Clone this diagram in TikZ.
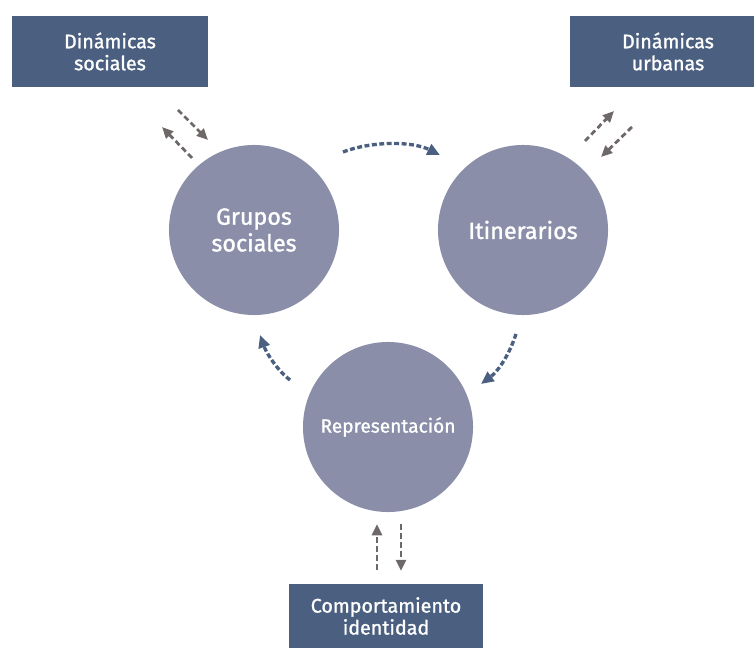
\documentclass[tikz,border=0pt]{standalone}
\usepackage{fontspec}
\setmainfont{Fira Sans}
\newfontfamily\medfont[FakeBold=1.2]{Fira Sans}
\usetikzlibrary{arrows.meta}

\definecolor{boxblue}{HTML}{4B5F80}
\definecolor{circgray}{HTML}{8A8EA8}
\definecolor{arrgray}{HTML}{6E6868}

\tikzset{
    box/.style={fill=boxblue, text=white, minimum width=4.9cm, minimum height=1.77cm,
        align=center, font=\medfont\fontsize{14}{15.6}\selectfont, inner sep=0pt},
    bubble/.style={circle, fill=circgray, text=white, minimum size=4.25cm,
        align=center, inner sep=0pt},
    pair/.style={arrgray, line width=2pt, dash pattern=on 4pt off 2.4pt,
        -{Triangle[length=8pt,width=7pt]}},
    cycle/.style={boxblue, line width=2.4pt, dash pattern=on 3.5pt off 1.8pt,
        -{Triangle[length=9pt,width=8pt]}}
}

\begin{document}
\begin{tikzpicture}[x=0.025cm,y=-0.025cm]
    \useasboundingbox (0,0) rectangle (754,648);

    % Boxes
    \node[box] (DS) at (110,51.5) {Dinámicas\\sociales};
    \node[box] (DU) at (668,51.5) {Dinámicas\\urbanas};
    \node[box, minimum width=4.85cm, minimum height=1.6cm] (CI) at (386,616) {Comportamiento\\identidad};

    % Circles
    \node[bubble, font=\medfont\fontsize{16.6}{19}\selectfont] (G) at (254,230) {Grupos\\sociales};
    \node[bubble, font=\medfont\fontsize{16.6}{19}\selectfont] (I) at (523,230) {Itinerarios};
    \node[bubble, font=\medfont\fontsize{13.6}{15}\selectfont] (R) at (388,427) {Representación};

    % Arrow ends
    \foreach \name/\x/\y in {a1/178/110, a2/208/140, b1/192/158, b2/162/127,
                             c1/585/141, c2/614/111, d1/632/127, d2/601/157,
                             e1/377/570, e2/377/524, f1/401/524, f2/401/571,
                             g1/343/152, g2/440/155, h1/516/334, h2/481/384,
                             k1/290/380, k2/260/335} {
        \coordinate (\name) at (\x,\y);
    }

    \draw[pair] (a1) -- (a2);
    \draw[pair] (b1) -- (b2);
    \draw[pair] (c1) -- (c2);
    \draw[pair] (d1) -- (d2);
    \draw[pair] (e1) -- (e2);
    \draw[pair] (f1) -- (f2);

    % Cycle between circles
    \draw[cycle] (g1) .. controls (372,141) and (412,141) .. (g2);
    \draw[cycle] (h1) .. controls (508,358) and (497,372) .. (h2);
    \draw[cycle] (k1) .. controls (276,369) and (266,352) .. (k2);

\end{tikzpicture}
\end{document}
